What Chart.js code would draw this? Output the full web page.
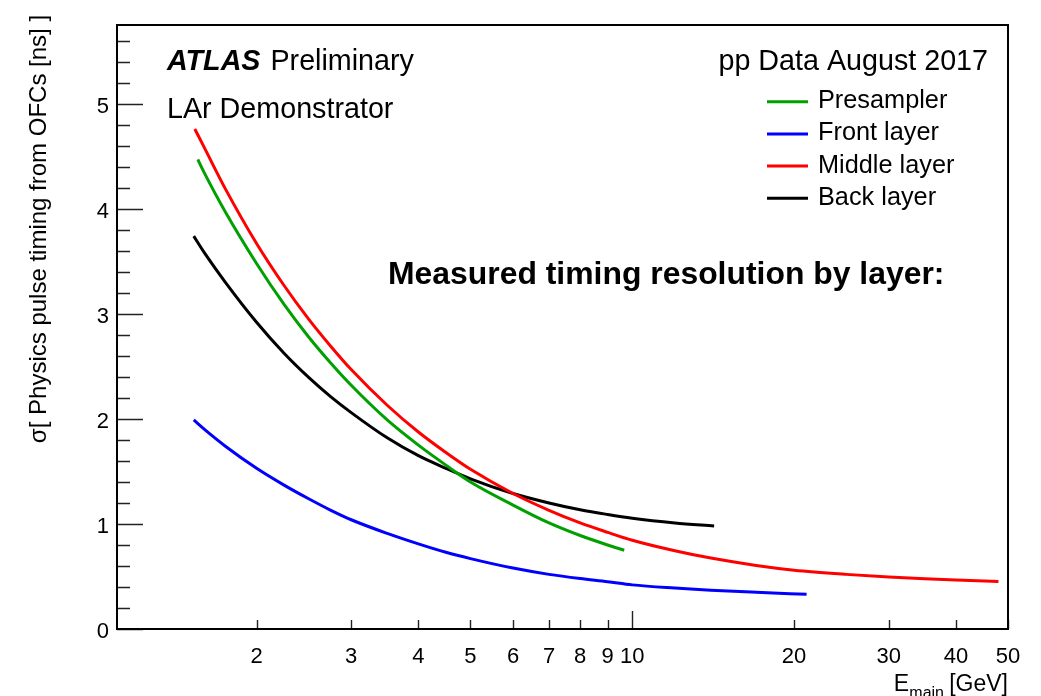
<!DOCTYPE html>
<html>
<head>
<meta charset="utf-8">
<script src="https://cdn.jsdelivr.net/npm/chart.js@4.4.1/dist/chart.umd.min.js"></script>
<style>
  html, body { margin: 0; padding: 0; background: #fff; }
  canvas { display: block; }
</style>
</head>
<body>
<canvas id="timing" width="1041" height="696"></canvas>
<script>
// ===== data: E_main [GeV] -> sigma [ns] =====
const presamplerE = [1.555, 1.6, 1.75, 2, 2.25, 2.5, 2.75, 3, 3.5, 4, 4.5, 5, 6, 7, 8, 9, 9.66]
const presamplerSigma = [4.47, 4.34, 3.97, 3.48, 3.09, 2.78, 2.53, 2.32, 1.99, 1.75, 1.56, 1.40, 1.18, 1.01, 0.89, 0.80, 0.75]

const frontE = [1.528, 1.6, 1.75, 2, 2.25, 2.5, 2.75, 3, 3.5, 4, 4.5, 5, 6, 7, 8, 9, 10, 12, 14, 17, 21.1]
const frontSigma = [1.99, 1.90, 1.74, 1.53, 1.37, 1.24, 1.13, 1.04, 0.91, 0.81, 0.73, 0.67, 0.58, 0.52, 0.48, 0.45, 0.42, 0.39, 0.37, 0.35, 0.33]

const middleE = [1.535, 1.6, 1.75, 2, 2.25, 2.5, 2.75, 3, 3.5, 4, 4.5, 5, 6, 7, 8, 9, 10, 12, 14, 17, 20, 25, 30, 35, 40, 48]
const middleSigma = [4.76, 4.58, 4.19, 3.67, 3.27, 2.95, 2.69, 2.47, 2.13, 1.875, 1.68, 1.52, 1.29, 1.13, 1.01, 0.92, 0.845, 0.745, 0.675, 0.605, 0.56, 0.52, 0.495, 0.478, 0.466, 0.452]

const backE = [1.528, 1.6, 1.75, 2, 2.25, 2.5, 2.75, 3, 3.5, 4, 4.5, 5, 6, 7, 8, 9, 10, 12, 14.2]
const backSigma = [3.74, 3.58, 3.30, 2.92, 2.625, 2.395, 2.21, 2.06, 1.82, 1.65, 1.53, 1.43, 1.29, 1.20, 1.135, 1.09, 1.055, 1.01, 0.98]

const xTicks = [2, 3, 4, 5, 6, 7, 8, 9, 10, 20, 30, 40, 50]
const yTicks = [0, 1, 2, 3, 4, 5]

const FONT = '"Liberation Sans", Arial, Helvetica, sans-serif'

const toPoints = (xs, ys) => xs.map((x, i) => ({ x: x, y: ys[i] }))

function curve(label, xs, ys, color) {
  return {
    label: label,
    data: toPoints(xs, ys),
    borderColor: color,
    backgroundColor: color,
    borderWidth: 3,
    pointRadius: 0,
    fill: false,
    cubicInterpolationMode: 'monotone',
  }
}

// ROOT style frame, inner ticks and annotations
const rootStyle = {
  id: 'rootStyle',
  afterDatasetsDraw(chart) {
    const ctx = chart.ctx
    const a = chart.chartArea
    const xs = chart.scales.x
    const ys = chart.scales.y
    ctx.save()

    // ticks inside the frame
    ctx.strokeStyle = '#222'
    ctx.lineWidth = 1.4
    ctx.beginPath()
    xTicks.forEach(v => {
      const px = Math.round(xs.getPixelForValue(v)) + 0.5
      const len = v === 10 ? 18 : 9
      ctx.moveTo(px, a.bottom)
      ctx.lineTo(px, a.bottom - len)
    })
    for (let k = 0; k <= 28; k++) {
      const v = k * 0.2
      if (v > ys.max) break
      const py = Math.round(ys.getPixelForValue(v)) + 0.5
      const len = k % 5 === 0 ? 26 : 13
      ctx.moveTo(a.left, py)
      ctx.lineTo(a.left + len, py)
    }
    ctx.stroke()

    // frame
    ctx.strokeStyle = '#000'
    ctx.lineWidth = 2
    ctx.strokeRect(a.left, a.top, a.right - a.left, a.bottom - a.top)

    // texts
    ctx.fillStyle = '#000'
    ctx.textBaseline = 'alphabetic'
    ctx.textAlign = 'left'
    ctx.font = 'italic bold 28.7px ' + FONT
    ctx.fillText('ATLAS', 167, 70)
    const w = ctx.measureText('ATLAS').width
    ctx.font = '28.7px ' + FONT
    ctx.fillText(' Preliminary', 167 + w + 2, 70)
    ctx.fillText('LAr Demonstrator', 167, 118)

    ctx.textAlign = 'right'
    ctx.fillText('pp Data August 2017', 988, 70)

    ctx.textAlign = 'left'
    ctx.font = 'bold 31.9px ' + FONT
    ctx.fillText('Measured timing resolution by layer:', 388, 284)

    // legend
    ctx.font = '25.3px ' + FONT
    chart.data.datasets.forEach((ds, i) => {
      const ly = 101.7 + i * 32.2
      ctx.strokeStyle = ds.borderColor
      ctx.lineWidth = 3
      ctx.beginPath()
      ctx.moveTo(767, ly)
      ctx.lineTo(808, ly)
      ctx.stroke()
      ctx.fillText(ds.label, 818, ly + 6.5)
    })

    // x axis title with subscript
    ctx.textAlign = 'right'
    ctx.font = '23px ' + FONT
    ctx.fillText('[GeV]', 1008, 691)
    ctx.font = '16px ' + FONT
    ctx.fillText('main', 944, 698)
    ctx.font = '23px ' + FONT
    ctx.fillText('E', 909, 691)

    // y axis title
    ctx.translate(46, 229)
    ctx.rotate(-Math.PI / 2)
    ctx.textAlign = 'center'
    ctx.font = '24px ' + FONT
    ctx.fillText('σ[ Physics pulse timing from OFCs [ns] ]', 0, 0)

    ctx.restore()
  }
}

new Chart(document.getElementById('timing'), {
  type: 'line',
  data: {
    datasets: [
      curve('Presampler', presamplerE, presamplerSigma, '#00a000'),
      curve('Front layer', frontE, frontSigma, '#0000ff'),
      curve('Middle layer', middleE, middleSigma, '#ff0000'),
      curve('Back layer', backE, backSigma, '#000000'),
    ]
  },
  options: {
    responsive: false,
    animation: false,
    devicePixelRatio: 1,
    layout: { padding: { top: 25, right: 33, left: 0, bottom: 0 } },
    plugins: { legend: { display: false }, tooltip: { enabled: false } },
    scales: {
      x: {
        type: 'logarithmic',
        min: 1.1,
        max: 50,
        grid: { display: false, drawTicks: false },
        border: { display: false },
        afterBuildTicks: s => { s.ticks = xTicks.map(v => ({ value: v })) },
        afterFit: s => { s.height = 67 },
        ticks: {
          autoSkip: false,
          maxRotation: 0,
          padding: 15,
          color: '#000',
          font: { family: FONT, size: 22 },
          callback: v => String(v),
        }
      },
      y: {
        type: 'linear',
        min: 0,
        max: 5.75,
        grid: { display: false, drawTicks: false },
        border: { display: false },
        afterBuildTicks: s => { s.ticks = yTicks.map(v => ({ value: v })) },
        afterFit: s => { s.width = 117 },
        ticks: {
          padding: 8,
          labelOffset: 3,
          color: '#000',
          font: { family: FONT, size: 22 },
          callback: v => String(v),
        }
      }
    }
  },
  plugins: [rootStyle]
})
</script>
</body>
</html>
